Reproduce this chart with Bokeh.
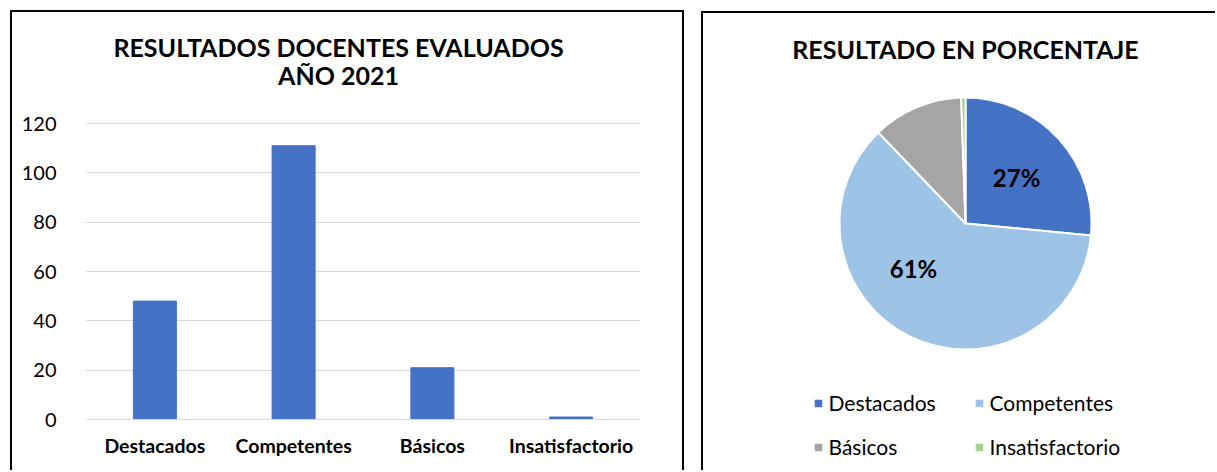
import numpy as np
from bokeh.plotting import figure
from bokeh.models import Range1d, Label, ColumnDataSource, FixedTicker, Legend, LegendItem
from bokeh.layouts import row
from bokeh.embed import file_html
from bokeh.resources import INLINE

# ---------------- data ----------------
categories = ["Destacados", "Competentes", "Básicos", "Insatisfactorio"]
docentes = [48, 111, 21, 1]
y_ticks = [0, 20, 40, 60, 80, 100, 120]
pie_colors = ["#4472C4", "#9DC3E6", "#A5A5A5", "#A9D18E"]
show_pct = [True, True, False, False]
bar_title = ["RESULTADOS DOCENTES EVALUADOS", "AÑO 2021"]
pie_title = "RESULTADO EN PORCENTAJE"

# ---------------- layout / style ----------------
FONT = "Lato"
BAR_COLOR = "#4472C4"
H = 470
W1, W2 = 692, 523
F_LEFT, F_RIGHT = 85, 640                      # bar-chart plot area (page px)
Y0_PX, YMAX_PX = 419, 123                      # pixel rows of value 0 and 120


def border_css(left, top, right=None, w=2):
    layers = [f"linear-gradient(#000,#000) {left}px {top}px / {w}px 100% no-repeat"]
    if right is not None:
        layers.append(f"linear-gradient(#000,#000) {left}px {top}px / {right - left + w}px {w}px no-repeat")
        layers.append(f"linear-gradient(#000,#000) {right}px {top}px / {w}px 100% no-repeat")
    else:
        layers.append(f"linear-gradient(#000,#000) {left}px {top}px / 100% {w}px no-repeat")
    return {"background": ", ".join(layers)}


# ---------------- bar chart ----------------
ppu = (Y0_PX - YMAX_PX) / y_ticks[-1]
y_start = -(H - Y0_PX) / ppu
y_end = y_ticks[-1] + YMAX_PX / ppu
p1 = figure(x_range=categories, y_range=Range1d(y_start, y_end), width=W1, height=H,
            output_backend="svg", toolbar_location=None, title=None,
            min_border_left=F_LEFT, min_border_right=W1 - F_RIGHT,
            min_border_top=0, min_border_bottom=0,
            styles=border_css(10, 10, 682))
p1.background_fill_color = None
p1.border_fill_color = None
p1.vbar(x=categories, top=docentes, width=0.31, color=BAR_COLOR)
p1.outline_line_color = None
p1.xgrid.grid_line_color = None
p1.ygrid.grid_line_color = "#D9D9D9"
p1.ygrid.grid_line_width = 1
p1.yaxis.ticker = FixedTicker(ticks=y_ticks)
p1.yaxis.axis_line_color = None
p1.yaxis.major_tick_line_color = None
p1.yaxis.minor_tick_line_color = None
p1.yaxis.major_label_standoff = 23
p1.yaxis.major_label_text_font = FONT
p1.yaxis.major_label_text_font_size = "20px"
p1.yaxis.major_label_text_color = "#000000"
p1.xaxis.fixed_location = 0
p1.xaxis.axis_line_color = "#D9D9D9"
p1.xaxis.major_tick_line_color = None
p1.xaxis.minor_tick_line_color = None
p1.xaxis.major_label_standoff = 8
p1.xaxis.major_label_text_font = FONT
p1.xaxis.major_label_text_font_style = "bold"
p1.xaxis.major_label_text_font_size = "19.5px"
p1.xaxis.major_label_text_color = "#000000"

cat_px = (F_RIGHT - F_LEFT) / len(categories)
title_x = (338 - F_LEFT) / cat_px
for t, ypx in zip(bar_title, [46, 74]):
    p1.add_layout(Label(x=title_x, y=(Y0_PX - ypx) / ppu, text=t,
                        text_align="center", text_baseline="middle", text_font=FONT,
                        text_font_style="bold", text_font_size="25px", text_color="#000000"))

# ---------------- pie chart ----------------
p2 = figure(x_range=Range1d(0, W2), y_range=Range1d(0, H), width=W2, height=H,
            output_backend="svg", toolbar_location=None, title=None, min_border=0,
            x_axis_type=None, y_axis_type=None, styles=border_css(9, 11))
p2.background_fill_color = None
p2.border_fill_color = None
p2.grid.visible = False
p2.outline_line_color = None

cx, cy, r = 965 - W1, H - 223, 126
vals = np.array(docentes, dtype=float)
frac = vals / vals.sum()
cum = np.cumsum(frac)
start = np.pi / 2 - 2 * np.pi * cum
end = np.pi / 2 - 2 * np.pi * (cum - frac)
src = ColumnDataSource(dict(cat=categories, start=start, end=end, color=pie_colors))
wr = p2.wedge(x=cx, y=cy, radius=r, start_angle="start", end_angle="end", direction="anticlock",
              fill_color="color", line_color="white", line_width=2, source=src)

label_shift_deg = [0, -23, 0, 0]
mid = np.pi / 2 - 2 * np.pi * (cum - frac / 2) + np.radians(label_shift_deg)
for i in range(len(categories)):
    if show_pct[i]:
        p2.add_layout(Label(x=cx + 0.548 * r * np.cos(mid[i]), y=cy + 0.548 * r * np.sin(mid[i]),
                            text=f"{round(frac[i] * 100)}%", text_align="center", text_baseline="middle",
                            text_font=FONT, text_font_style="bold", text_font_size="24px",
                            text_color="#000000"))

p2.add_layout(Label(x=cx, y=H - 48, text=pie_title, text_align="center", text_baseline="middle",
                    text_font=FONT, text_font_style="bold", text_font_size="25px",
                    text_color="#000000"))

items = [LegendItem(label=c, renderers=[wr], index=i) for i, c in enumerate(categories)]
legend = Legend(items=items, orientation="horizontal", ncols=2, location=(119.5, 8.5),
                padding=0, margin=0, spacing=14, border_line_color=None, background_fill_alpha=0,
                glyph_width=12, glyph_height=12, label_standoff=5, label_width=130,
                label_height=30, label_text_font=FONT, label_text_font_size="21px",
                label_text_color="#000000")
p2.add_layout(legend, "center")

layout = row(p1, p2)
open("out.html", "w").write(file_html(layout, INLINE))
